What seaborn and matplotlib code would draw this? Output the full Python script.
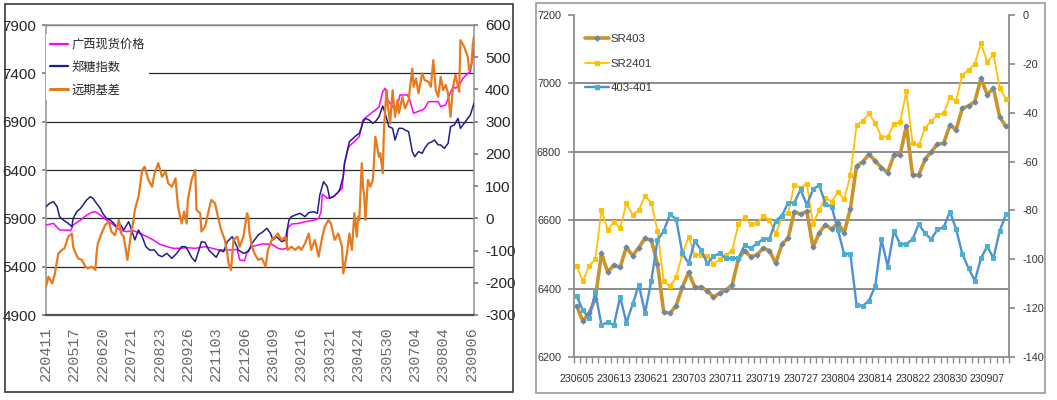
import numpy as np
import pandas as pd
import matplotlib
matplotlib.use("Agg")
import matplotlib.pyplot as plt
import seaborn as sns
from matplotlib.patches import Rectangle
from matplotlib.lines import Line2D

# ---------------- data: left panel (daily, index = trading day since 220411) -------------
left_tick_labels = ['220411', '220517', '220620', '220721', '220823', '220926', '221103',
                    '221206', '230109', '230216', '230321', '230424', '230530', '230704',
                    '230804', '230906']
left_n_days = 348

pink_idx = [0, 6, 11, 17, 20, 22, 28, 33, 37, 40, 44, 49, 55, 60, 65, 71, 76, 82, 87, 92, 98, 103,
            109, 114, 121, 129, 135, 140, 150, 155, 157, 161, 163, 167, 175, 183, 188, 192, 195,
            196, 199, 205, 210, 218, 221, 223, 224, 228, 233, 236, 240, 242, 245, 246, 250, 254,
            257, 260, 262, 265, 267, 270, 273, 275, 277, 279, 282, 285, 287, 290, 293, 295, 298,
            301, 305, 307, 310, 313, 315, 318, 320, 324, 327, 330, 332, 335, 338, 342, 344, 347]
pink_val = [5831, 5848, 5779, 5779, 5772, 5831, 5883, 5934, 5962, 5969, 5934, 5883, 5831, 5779,
            5762, 5772, 5745, 5710, 5676, 5634, 5607, 5590, 5590, 5597, 5590, 5607, 5590, 5572,
            5572, 5579, 5470, 5462, 5555, 5607, 5634, 5634, 5590, 5580, 5590, 5800, 5841, 5848,
            5865, 5883, 5900, 5969, 6150, 6107, 6124, 6159, 6210, 6469, 6624, 6650, 6693, 6745,
            6917, 6952, 6969, 7003, 7020, 7055, 7210, 7245, 7124, 7090, 7038, 7072, 7176, 7176,
            7176, 7124, 6986, 7003, 7020, 7038, 7107, 7107, 7107, 7107, 7055, 7072, 7176, 7262,
            7245, 7279, 7348, 7400, 7417, 7641]

blue_idx = [0, 3, 6, 9, 11, 14, 18, 21, 22, 25, 28, 30, 33, 36, 38, 41, 44, 46, 49, 52, 55, 57, 60,
            63, 67, 69, 72, 75, 78, 81, 84, 88, 91, 94, 98, 102, 106, 110, 113, 115, 118, 121, 124,
            126, 129, 132, 136, 138, 141, 144, 147, 151, 153, 156, 160, 164, 167, 170, 172, 176,
            179, 182, 184, 187, 191, 194, 197, 199, 202, 206, 210, 213, 217, 220, 222, 225, 228,
            230, 233, 236, 238, 241, 242, 245, 246, 249, 252, 254, 256, 257, 259, 262, 265, 267,
            270, 273, 275, 278, 281, 283, 286, 289, 291, 294, 297, 299, 302, 305, 307, 310, 313,
            315, 318, 320, 323, 326, 328, 331, 334, 336, 339, 342, 344, 347]
blue_val = [6021, 6055, 6072, 6021, 5917, 5883, 5848, 5814, 5900, 5969, 6003, 6038, 6090, 6124,
            6107, 6055, 6003, 5952, 5900, 5883, 5848, 5814, 5841, 5779, 5865, 5797, 5676, 5779,
            5710, 5607, 5572, 5572, 5521, 5503, 5538, 5486, 5538, 5607, 5607, 5572, 5497, 5452,
            5572, 5659, 5650, 5572, 5521, 5497, 5572, 5555, 5659, 5710, 5659, 5572, 5538, 5555,
            5641, 5693, 5728, 5762, 5797, 5745, 5676, 5710, 5659, 5676, 5883, 5917, 5934, 5952,
            5917, 5959, 5969, 5952, 6141, 6279, 6228, 6107, 6124, 6159, 6193, 6331, 6469, 6641,
            6693, 6728, 6762, 6779, 6848, 6900, 6934, 6917, 6883, 6900, 6952, 7062, 6986, 6848,
            6831, 6710, 6831, 6831, 6814, 6797, 6590, 6538, 6590, 6572, 6624, 6676, 6693, 6710,
            6659, 6659, 6624, 6676, 6848, 6865, 6934, 6831, 6883, 6934, 6969, 7090]

orange_idx = [0, 2, 5, 7, 10, 13, 15, 18, 21, 22, 24, 26, 29, 32, 34, 37, 40, 41, 42, 45, 48, 51,
              53, 56, 59, 61, 63, 66, 69, 71, 72, 75, 78, 80, 83, 86, 88, 91, 94, 97, 99, 102, 105,
              107, 110, 112, 114, 115, 118, 121, 122, 125, 126, 129, 132, 134, 137, 140, 142, 145,
              147, 148, 150, 152, 155, 157, 160, 163, 164, 165, 167, 169, 172, 175, 178, 180, 183,
              186, 188, 191, 194, 196, 199, 202, 205, 207, 210, 213, 215, 218, 221, 224, 226, 229,
              231, 234, 237, 240, 241, 244, 246, 248, 250, 252, 253, 254, 256, 257, 258, 259, 261,
              263, 265, 266, 267, 270, 271, 273, 274, 276, 277, 279, 281, 283, 285, 286, 289, 291,
              294, 297, 298, 300, 302, 305, 307, 310, 312, 314, 316, 318, 320, 322, 324, 326, 328,
              330, 332, 335, 336, 339, 342, 343, 345, 346, 347]
orange_val = [-212, -181, -202, -176, -109, -98, -93, -57, -47, -88, -109, -124, -129, -150, -155,
              -150, -160, -109, -78, -47, -21, -10, -41, -52, -5, -47, -57, -129, -47, -5, 26, 67,
              150, 160, 119, 98, 140, 171, 129, 145, 109, 98, 124, 36, -16, 21, -16, 57, 119, 150,
              26, 16, -41, -26, 26, 57, 47, -5, -36, -67, -109, -140, -160, -67, -57, -88, -57, 16,
              5, -47, -88, -109, -129, -124, -150, -98, -67, -57, -47, -67, -57, -98, -88, -98, -88,
              -98, -78, -47, -98, -67, -119, -57, -26, -5, -16, -67, -47, -88, -171, -109, -47, -98,
              16, -57, 5, -5, 171, 98, 67, -5, 119, 98, 119, 181, 253, 191, 202, 140, 274, 398, 357,
              295, 398, 315, 367, 326, 377, 341, 367, 465, 408, 434, 388, 450, 429, 424, 408, 491,
              398, 377, 439, 398, 414, 388, 315, 408, 445, 393, 553, 533, 501, 460, 481, 538, 564]

# ---------------- data: right panel -------------
right_dates = ['230605', '230606', '230607', '230608', '230609', '230612', '230613', '230614',
               '230615', '230616', '230619', '230620', '230621', '230626', '230627', '230628',
               '230629', '230630', '230703', '230704', '230705', '230706', '230707', '230710',
               '230711', '230712', '230713', '230714', '230717', '230718', '230719', '230720',
               '230721', '230724', '230725', '230726', '230727', '230728', '230731', '230801',
               '230802', '230803', '230804', '230807', '230808', '230809', '230810', '230811',
               '230814', '230815', '230816', '230817', '230818', '230821', '230822', '230823',
               '230824', '230825', '230828', '230829', '230830', '230831', '230901', '230904',
               '230905', '230906', '230907', '230908', '230911', '230912']
sr403 = [6350, 6305, 6328, 6370, 6503, 6448, 6469, 6462, 6522, 6496, 6520, 6547, 6542, 6472,
         6331, 6328, 6350, 6404, 6448, 6404, 6404, 6394, 6375, 6387, 6396, 6411, 6486, 6511,
         6493, 6499, 6518, 6511, 6474, 6530, 6548, 6625, 6617, 6626, 6521, 6563, 6587, 6573,
         6592, 6563, 6633, 6758, 6771, 6793, 6773, 6754, 6739, 6791, 6791, 6876, 6732, 6732,
         6778, 6800, 6822, 6825, 6878, 6865, 6928, 6934, 6947, 7015, 6967, 6986, 6902, 6874]
sr2401 = [6467, 6421, 6467, 6486, 6630, 6572, 6596, 6577, 6649, 6616, 6630, 6671, 6651, 6569,
          6421, 6407, 6433, 6501, 6551, 6499, 6499, 6496, 6472, 6486, 6499, 6511, 6588, 6610,
          6588, 6591, 6611, 6601, 6559, 6610, 6622, 6703, 6695, 6707, 6589, 6631, 6666, 6654,
          6682, 6661, 6731, 6878, 6890, 6912, 6883, 6844, 6844, 6881, 6886, 6977, 6825, 6819,
          6869, 6890, 6907, 6912, 6959, 6949, 7025, 7039, 7057, 7118, 7062, 7086, 6988, 6954]
spread = [-114.9, -120.8, -124.2, -113.5, -126.9, -125.8, -126.9, -115.3, -126.0, -118.5,
          -110.5, -121.9, -108.9, -92.1, -88.4, -81.6, -83.5, -97.6, -101.7, -92.5, -96.2,
          -101.7, -98.7, -97.6, -99.6, -99.6, -99.6, -94.2, -95.5, -93.5, -91.7, -91.7, -84.2,
          -82.2, -76.8, -76.8, -71.4, -77.8, -71.4, -69.6, -77.4, -78.5, -88.0, -97.8, -97.8,
          -118.7, -119.1, -116.9, -110.9, -91.8, -103.0, -88.4, -93.8, -93.8, -91.8, -85.6,
          -89.4, -91.8, -87.7, -86.9, -80.5, -87.7, -97.8, -103.7, -108.8, -99.6, -94.6, -99.6,
          -88.4, -81.6]

# ---------------- style -------------
sns.set_theme(style="white")
SANS = 'Liberation Sans'
plt.rcParams['font.family'] = ['Noto Sans CJK SC', 'DejaVu Sans']
plt.rcParams['axes.unicode_minus'] = False

W, H = 1057, 400
fig = plt.figure(figsize=(W / 100, H / 100), dpi=100)
fig.patch.set_facecolor('white')


def fx(px):
    return px / W


def fy(py):
    return 1 - py / H


# outer frames
fig.patches.append(Rectangle((fx(5), fy(392)), fx(508), 388 / H, transform=fig.transFigure,
                             fill=False, edgecolor='#3a3a3a', lw=1.2))
fig.patches.append(Rectangle((fx(536), fy(393)), fx(509), 390 / H, transform=fig.transFigure,
                             fill=False, edgecolor='#9a9a9a', lw=1.2))

# ================= LEFT PANEL =================
ax1 = fig.add_axes([fx(46), fy(315), fx(428), 290 / H])
ax1.set_facecolor('white')
df_p = pd.DataFrame({'idx': pink_idx, 'val': pink_val})
df_b = pd.DataFrame({'idx': blue_idx, 'val': blue_val})
df_o = pd.DataFrame({'idx': orange_idx, 'val': orange_val})

sns.lineplot(data=df_p, x='idx', y='val', ax=ax1, color='#FF00FF', linewidth=1.1,
             estimator=None, sort=False, zorder=3)
sns.lineplot(data=df_b, x='idx', y='val', ax=ax1, color='#1E1E8E', linewidth=1.1,
             estimator=None, sort=False, zorder=3)
ax1.set_xlim(0, left_n_days - 1)
ax1.set_ylim(4900, 7900)
ax1.set_yticks(np.arange(4900, 7901, 500))
ax1.set_xticks(np.arange(0, left_n_days, 23)[:len(left_tick_labels)])
ax1.set_xticklabels(left_tick_labels, rotation=90, family='Liberation Mono', fontsize=11,
                    color='#6a6a6a', va='top', ha='center')
ax1.set_xlabel('')
ax1.set_ylabel('')
ax1.yaxis.grid(True, color='#2a2a2a', linewidth=0.9)
ax1.xaxis.grid(False)
ax1.set_axisbelow(True)
ax1.tick_params(axis='y', which='major', direction='out', length=3, color='#808080',
                labelsize=11, pad=4, left=True)
ax1.tick_params(axis='x', length=0, pad=8)
for lab in ax1.get_yticklabels():
    lab.set_family(SANS)
for s in ['left', 'right', 'top']:
    ax1.spines[s].set_color('#9a9a9a')
    ax1.spines[s].set_linewidth(1.2)
ax1.spines['bottom'].set_color('#505050')
ax1.spines['bottom'].set_linewidth(1.6)

ax2 = ax1.twinx()
sns.lineplot(data=df_o, x='idx', y='val', ax=ax2, color='#E87A1E', linewidth=1.6,
             estimator=None, sort=False)
ax2.set_ylim(-300, 600)
ax2.set_yticks(np.arange(-300, 601, 100))
ax2.set_ylabel('')
ax2.grid(False)
ax2.tick_params(axis='y', direction='out', length=3, color='#808080',
                labelsize=11, pad=5, right=True)
for lab in ax2.get_yticklabels():
    lab.set_family(SANS)
for s in ['left', 'right', 'top', 'bottom']:
    ax2.spines[s].set_visible(False)

h_left = [Line2D([], [], color='#FF00FF', lw=1.6),
          Line2D([], [], color='#1E1E8E', lw=1.6),
          Line2D([], [], color='#E87A1E', lw=2.2)]
leg1 = ax2.legend(h_left, ['广西现货价格', '郑糖指数', '远期基差'], loc='upper left',
                  bbox_to_anchor=(0.0, 0.968), borderaxespad=0.0, frameon=True,
                  fontsize=8.8, handlelength=1.5, handletextpad=0.3, labelspacing=0.8,
                  borderpad=0.3, fancybox=False)
leg1.get_frame().set_facecolor('white')
leg1.get_frame().set_edgecolor('none')
leg1.get_frame().set_alpha(1.0)

# ================= RIGHT PANEL =================
ax3 = fig.add_axes([fx(573.5), fy(357), fx(435.5), 342 / H])
ax3.set_facecolor('white')
n_r = len(right_dates)
df_r = pd.DataFrame({'i': np.arange(n_r), 'SR403': sr403, 'SR2401': sr2401,
                     'spread': spread, 'date': right_dates})

sns.lineplot(data=df_r, x='i', y='SR2401', ax=ax3, color='#FFC000', linewidth=1.3,
             marker='s', markersize=3.2, markerfacecolor='#FFC000', markeredgecolor='#FFC000',
             estimator=None, sort=False, zorder=3)
sns.lineplot(data=df_r, x='i', y='SR403', ax=ax3, color='#C9952B', linewidth=2.6,
             marker='D', markersize=2.6, markerfacecolor='#6C86A6', markeredgecolor='#6C86A6',
             estimator=None, sort=False, zorder=4)
ax3.set_xlim(-0.5, n_r - 0.5)
ax3.set_ylim(6200, 7200)
ax3.set_yticks(np.arange(6200, 7201, 200))
ax3.set_xticks(np.arange(0, n_r, 6))
ax3.set_xticklabels([right_dates[k] for k in range(0, n_r, 6)])
ax3.set_xticks(np.arange(-0.5, n_r, 1), minor=True)
ax3.set_xlabel('')
ax3.set_ylabel('')
ax3.yaxis.grid(True, color='#8c8c8c', linewidth=1.4)
ax3.xaxis.grid(False)
ax3.set_axisbelow(True)
gl = ax3.get_ygridlines()
gl[0].set_visible(False)
gl[-1].set_visible(False)
ax3.tick_params(axis='x', which='major', length=0, pad=12, labelsize=7.6,
                labelcolor='#333333')
ax3.tick_params(axis='x', which='minor', length=4, color='#8c8c8c', direction='out',
                bottom=True)
ax3.tick_params(axis='y', direction='out', length=4, color='#8c8c8c',
                labelsize=7.8, labelcolor='#333333', pad=5, left=True)
for lab in ax3.get_xticklabels() + ax3.get_yticklabels():
    lab.set_family(SANS)
for s in ['left', 'right', 'bottom']:
    ax3.spines[s].set_color('#8c8c8c')
    ax3.spines[s].set_linewidth(1.3)
ax3.spines['top'].set_visible(False)

ax4 = ax3.twinx()
sns.lineplot(data=df_r, x='i', y='spread', ax=ax4, color='#4F8FD6', linewidth=1.7,
             marker='s', markersize=3.3, markerfacecolor='#4BB0CF', markeredgecolor='#4BB0CF',
             estimator=None, sort=False)
ax4.set_ylim(-140, 0)
ax4.set_yticks(np.arange(-140, 1, 20))
ax4.set_ylabel('')
ax4.grid(False)
ax4.tick_params(axis='y', direction='out', length=4, color='#8c8c8c',
                labelsize=7.8, labelcolor='#333333', pad=6, right=True)
for lab in ax4.get_yticklabels():
    lab.set_family(SANS)
for s in ['left', 'right', 'top', 'bottom']:
    ax4.spines[s].set_visible(False)

h_right = [Line2D([], [], color='#C9952B', lw=2.6, marker='D', markersize=2.6,
                  markerfacecolor='#6C86A6', markeredgecolor='#6C86A6'),
           Line2D([], [], color='#FFC000', lw=1.3, marker='s', markersize=3.2),
           Line2D([], [], color='#4F8FD6', lw=1.7, marker='s', markersize=3.3,
                  markerfacecolor='#4BB0CF', markeredgecolor='#4BB0CF')]
leg2 = ax4.legend(h_right, ['SR403', 'SR2401', '403-401'], loc='upper left',
                  bbox_to_anchor=(0.026, 0.945), borderaxespad=0.0, borderpad=0.0,
                  frameon=False, handlelength=2.1, handletextpad=0.15, labelspacing=1.3,
                  prop={'family': SANS, 'size': 8.2})
for t in leg2.get_texts():
    t.set_color('#333333')

fig.savefig('out.png', dpi=100, facecolor='white')
